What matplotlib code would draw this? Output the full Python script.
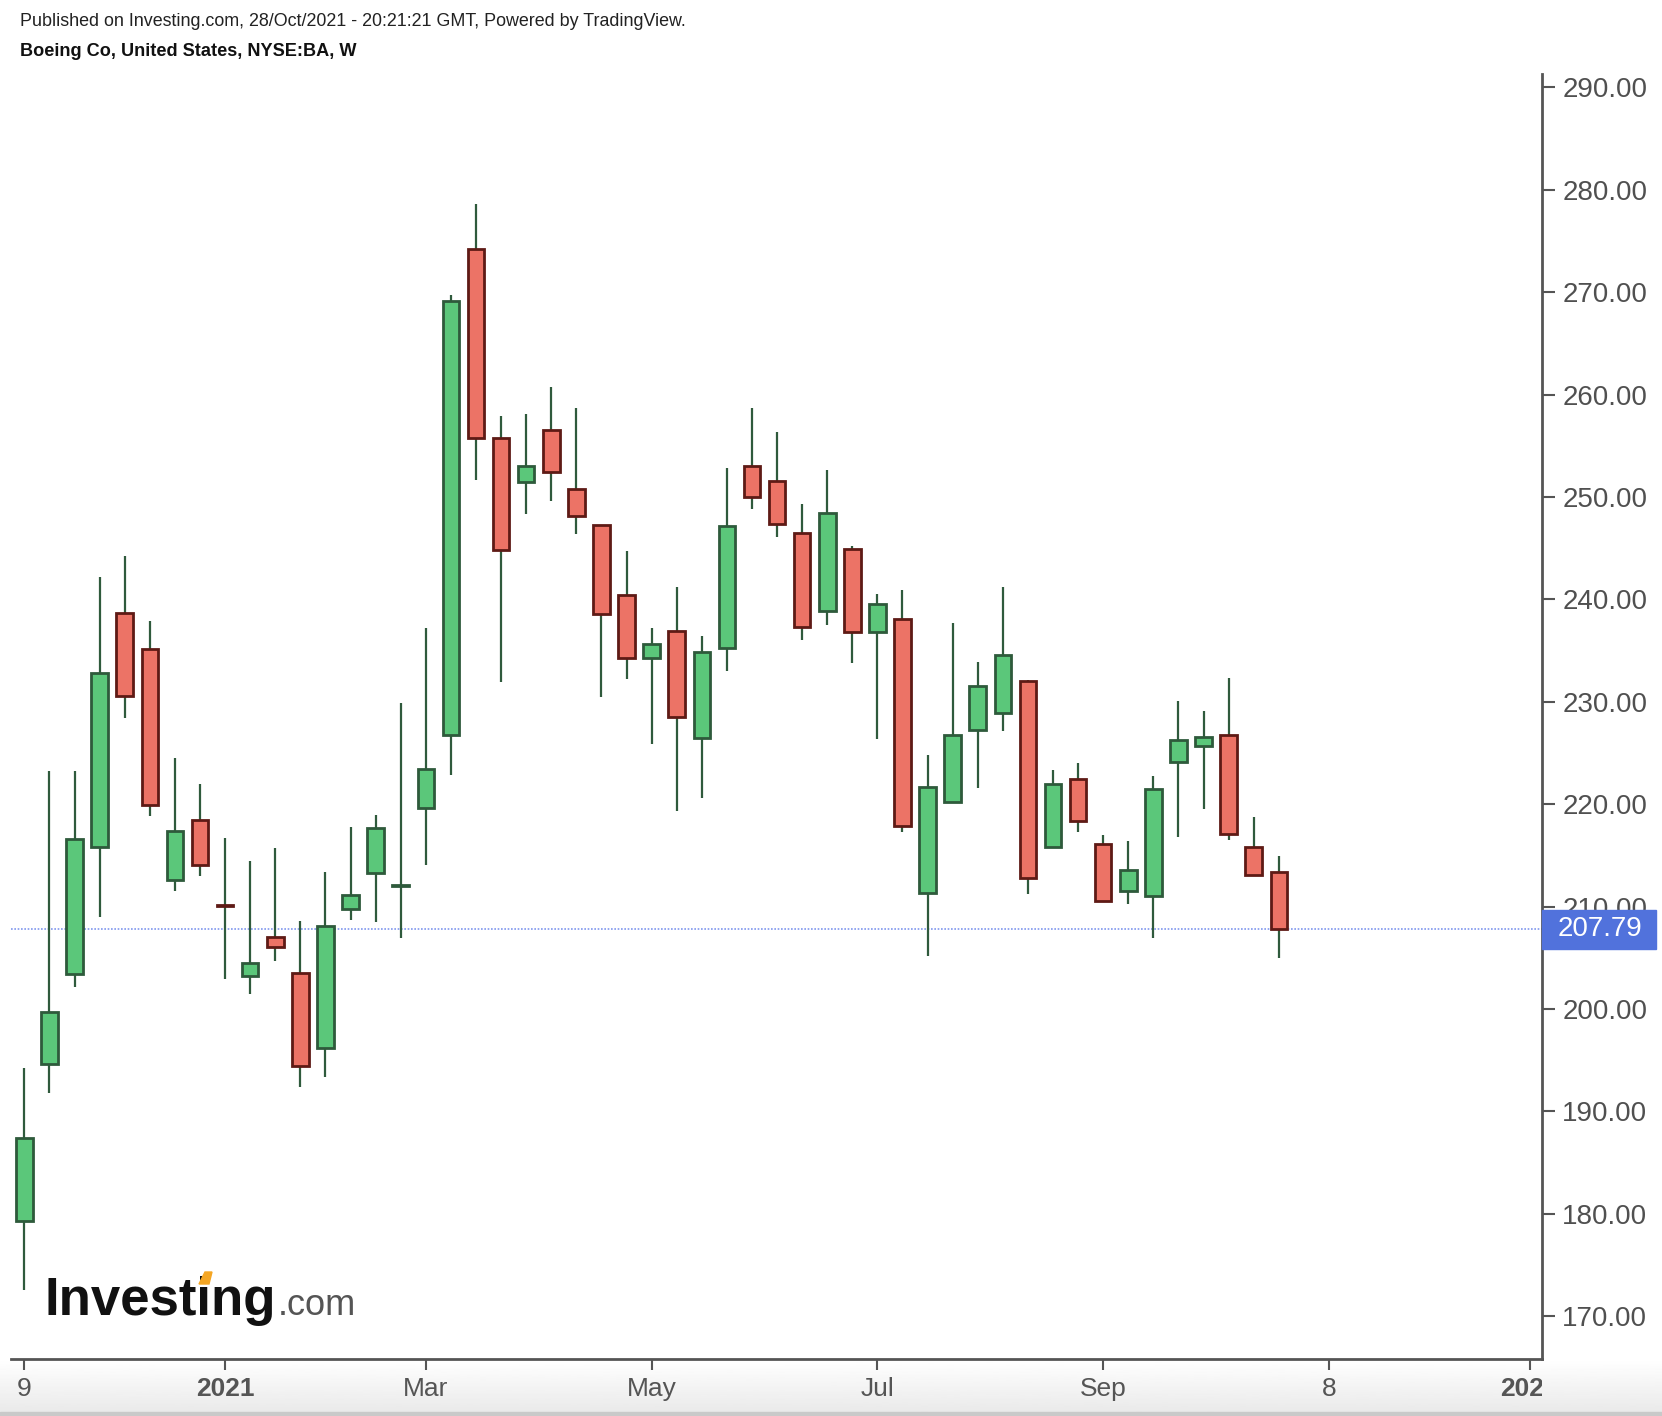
import numpy as np
import matplotlib.pyplot as plt
from matplotlib.patches import Rectangle, Polygon
from matplotlib.transforms import Bbox, TransformedBbox, blended_transform_factory

plt.rcParams['font.family'] = ['Liberation Sans', 'DejaVu Sans']

# weekly candles, Nov 9 2020 .. Oct 25 2021
opens = [179.26, 194.66, 203.46, 215.86, 238.64, 235.13, 212.56, 218.41, 210.15, 203.26,
         207.06, 203.51, 196.16, 209.81, 213.32, 212.05, 219.62, 226.73, 274.21, 255.80,
         251.43, 256.57, 250.78, 247.23, 240.44, 234.26, 236.88, 226.46, 235.30, 253.06,
         251.55, 246.49, 238.89, 244.95, 236.78, 238.12, 211.31, 220.20, 227.24, 228.94,
         232.05, 215.83, 222.44, 216.15, 211.53, 211.06, 224.17, 225.65, 226.74, 215.86,
         213.34]
highs = [194.24, 223.25, 223.25, 242.22, 244.27, 237.92, 224.54, 222.00, 216.70, 214.44,
         215.69, 208.60, 213.40, 217.74, 218.99, 229.84, 237.16, 269.77, 278.57, 257.88,
         258.15, 260.70, 258.65, 247.30, 244.76, 237.16, 241.25, 236.46, 252.86, 258.65,
         256.37, 249.31, 252.59, 245.26, 240.50, 240.94, 224.79, 237.65, 233.89, 241.19,
         232.10, 223.31, 224.03, 216.95, 216.44, 222.73, 230.10, 229.09, 232.37, 218.72,
         214.93]
lows = [172.58, 191.82, 202.13, 208.98, 228.46, 218.87, 211.52, 213.02, 202.92, 201.42,
        204.68, 192.36, 193.32, 208.72, 208.47, 206.97, 214.04, 222.87, 251.63, 231.94,
        248.35, 249.62, 246.34, 230.48, 232.21, 225.89, 219.33, 220.64, 232.99, 248.85,
        246.11, 236.00, 237.54, 233.80, 226.41, 217.27, 205.21, 220.10, 221.57, 227.14,
        211.24, 215.80, 217.31, 210.50, 210.23, 206.91, 216.77, 219.55, 216.48, 213.10,
        204.99]
closes = [187.36, 199.71, 216.65, 232.84, 230.55, 219.91, 217.41, 214.07, 210.05, 204.51,
          206.01, 194.45, 208.06, 211.10, 217.66, 212.15, 223.46, 269.19, 255.76, 244.87,
          253.06, 252.44, 248.15, 238.58, 234.26, 235.61, 228.47, 234.84, 247.19, 249.97,
          247.38, 237.35, 248.46, 236.85, 239.60, 217.85, 221.68, 226.74, 231.54, 234.58,
          212.79, 221.93, 218.36, 210.52, 213.62, 221.47, 226.31, 226.52, 217.13, 213.12,
          207.79]
last_price = 207.79

tick_pos = [0, 8, 16, 25, 34, 43, 52, 60]
tick_labels = ["9", "2021", "Mar", "May", "Jul", "Sep", "8", "2022"]
bold_labels = ["2021", "2022"]
price_ticks = list(range(170, 300, 10))

W, H = 1662, 1416
fig = plt.figure(figsize=(W / 100, H / 100), dpi=100)

# soft grey band under the time axis
gax = fig.add_axes([0, 0, 1, 56 / H])
gax.set_zorder(0)
grad = np.linspace(0.91, 1.0, 64).reshape(-1, 1)
gax.imshow(grad, aspect='auto', cmap='gray', vmin=0, vmax=1, extent=[0, 1, 0, 1], origin='lower')
gax.axhspan(0, 4 / 56, color='#c9c9c9')
gax.set_xlim(0, 1)
gax.set_ylim(0, 1)
gax.axis('off')

left, right, top, bottom = 10.6, 1541.5, 74, 1359
ax = fig.add_axes([left / W, 1 - bottom / H, (right - left) / W, (bottom - top) / H])
ax.set_zorder(1)

x = np.arange(len(opens))
o = np.array(opens)
c = np.array(closes)
up = c >= o
body_lo = np.minimum(o, c)
body_h = np.maximum(np.abs(c - o), 0.08)

ax.vlines(x, lows, highs, color='#2f5a3c', lw=1.6, zorder=2)
ax.bar(x[up], body_h[up], bottom=body_lo[up], width=0.66,
       color='#5bc77a', edgecolor='#2e5a3b', linewidth=2, zorder=3)
ax.bar(x[~up], body_h[~up], bottom=body_lo[~up], width=0.66,
       color='#ec7366', edgecolor='#5e1a15', linewidth=2, zorder=3)

ax.axhline(last_price, color='#8097ee', lw=1.2, ls=(0, (1, 1)), zorder=1)

ax.set_xlim(-0.55, 60.47)
ax.set_ylim(165.82, 291.31)

for s in ['left', 'top']:
    ax.spines[s].set_visible(False)
for s in ['right', 'bottom']:
    ax.spines[s].set_color('#555555')
    ax.spines[s].set_linewidth(2)

ax.yaxis.tick_right()
ax.set_yticks(price_ticks)
ax.set_yticklabels([f"{v:.2f}" for v in price_ticks])
ax.tick_params(axis='y', direction='out', length=9, width=1.5, color='#555555',
               pad=6, labelsize=20, labelcolor='#505050')
ax.set_xticks(tick_pos)
ax.set_xticklabels(tick_labels)
ax.tick_params(axis='x', direction='out', length=8, width=1.5, color='#555555',
               pad=5, labelsize=19, labelcolor='#555555')
clip = TransformedBbox(Bbox([[0, 0], [right / W, 1]]), fig.transFigure)
for lab in ax.get_xticklabels():
    if lab.get_text() in bold_labels:
        lab.set_fontweight('bold')
    lab.set_clip_box(clip)
    lab.set_clip_on(True)

# last price box on the price scale
tr = blended_transform_factory(ax.transAxes, ax.transData)
ax_w = right - left
ax.add_patch(Rectangle((1.0, last_price - 1.9), 114 / ax_w, 3.8, transform=tr,
                       color='#5172dc', clip_on=False, zorder=6))
ax.text(1.0 + 16 / ax_w, last_price, f"{last_price:.2f}", transform=tr, color='white',
        fontsize=20, va='center', ha='left', zorder=7, clip_on=False)

fig.text(20 / W, 1 - 22 / H,
         "Published on Investing.com, 28/Oct/2021 - 20:21:21 GMT, Powered by TradingView.",
         fontsize=12.9, color='#222222', va='center')
fig.text(20 / W, 1 - 52 / H, "Boeing Co, United States, NYSE:BA, W",
         fontsize=13.1, fontweight='bold', color='#111111', va='center')

# watermark
fig.text(44 / W, 1 - 1315 / H, "Investing", fontsize=38, fontweight='bold',
         color='#111111', va='baseline', zorder=10)
fig.text(278 / W, 1 - 1315 / H, ".com", fontsize=26, color='#555555',
         va='baseline', zorder=10)
fig.patches.append(Polygon([(199 / W, 1 - 1284 / H), (205 / W, 1 - 1272 / H),
                            (212 / W, 1 - 1272 / H), (209 / W, 1 - 1284 / H)],
                           closed=True, transform=fig.transFigure, color='#f5a623', zorder=11))

fig.savefig("out.png", dpi=100, facecolor='white')
